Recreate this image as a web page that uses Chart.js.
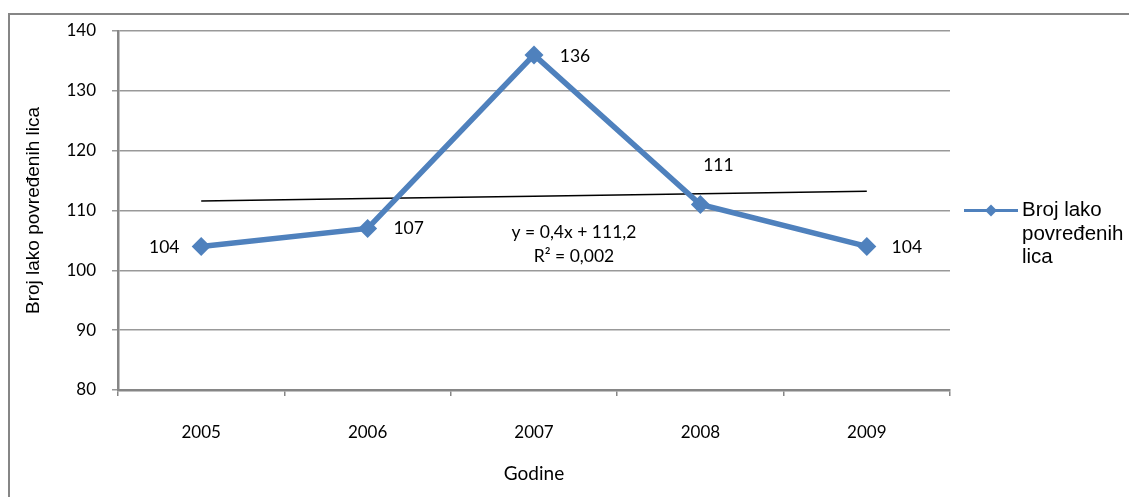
<!DOCTYPE html>
<html>
<head>
<meta charset="utf-8">
<script src="https://cdn.jsdelivr.net/npm/chart.js@4.4.0/dist/chart.umd.min.js"></script>
<style>
  html, body { margin: 0; padding: 0; background: #fff; }
  #wrap { width: 1129px; height: 497px; position: relative; }
</style>
</head>
<body>
<div id="wrap"><canvas id="c"></canvas></div>
<script>
// podaci
const godine = ['2005', '2006', '2007', '2008', '2009'];
const brojLica = [104, 107, 136, 111, 104];
const trend = [111.6, 112.0, 112.4, 112.8, 113.2];
const yTicks = [80, 90, 100, 110, 120, 130, 140];
const legendLines = ['Broj lako', 'povređenih', 'lica'];
const eqLines = ['y = 0,4x + 111,2', 'R² = 0,002'];

const BLUE = '#4f81bd';
const GRAY = '#868686';
const tickFont = { family: 'Lato, "Open Sans", sans-serif', size: 17 };

// pomaci oznaka vrijednosti u odnosu na tačku
const labelOffsets = [[-37, 1], [41, 0], [41, 1], [18, -39], [40, 1]];

const extras = {
  id: 'extras',
  afterDatasetsDraw(chart) {
    const { ctx, chartArea, scales } = chart;
    const meta = chart.getDatasetMeta(0);
    ctx.save();
    ctx.fillStyle = '#000';
    ctx.font = '17.5px Lato, "Open Sans", sans-serif';
    ctx.textAlign = 'center';
    ctx.textBaseline = 'middle';
    meta.data.forEach((pt, i) => {
      const [dx, dy] = labelOffsets[i];
      ctx.fillText(String(brojLica[i]), pt.x + dx, pt.y + dy);
    });

    // jednačina trenda
    const cx = scales.x.getPixelForValue(2) + 40;
    const cy = scales.y.getPixelForValue(106.3);
    eqLines.forEach((t, i) => ctx.fillText(t, cx, cy + i * 24));

    // legenda
    const ly = scales.y.getPixelForValue(110);
    const lx = chartArea.right + 14;
    ctx.strokeStyle = BLUE;
    ctx.lineWidth = 3;
    ctx.beginPath();
    ctx.moveTo(lx, ly);
    ctx.lineTo(lx + 54, ly);
    ctx.stroke();
    ctx.fillStyle = BLUE;
    ctx.beginPath();
    ctx.moveTo(lx + 27, ly - 6);
    ctx.lineTo(lx + 33, ly);
    ctx.lineTo(lx + 27, ly + 6);
    ctx.lineTo(lx + 21, ly);
    ctx.closePath();
    ctx.fill();
    ctx.fillStyle = '#000';
    ctx.textAlign = 'left';
    ctx.font = '20.5px "Liberation Sans", Arial, sans-serif';
    legendLines.forEach((t, i) => ctx.fillText(t, lx + 58, ly + i * 23.5));

    // okvir grafikona
    ctx.strokeStyle = GRAY;
    ctx.lineWidth = 2;
    ctx.strokeRect(9, 14, 1140, 500);
    ctx.restore();
  }
};

new Chart(document.getElementById('c'), {
  type: 'line',
  data: {
    labels: godine,
    datasets: [{
      label: 'Broj lako povređenih lica',
      data: brojLica,
      borderColor: BLUE,
      backgroundColor: BLUE,
      borderWidth: 5.5,
      pointStyle: 'rectRot',
      pointRadius: 9.5,
      pointBorderWidth: 0,
      tension: 0,
      order: 1,
    }, {
      label: 'trend',
      data: trend,
      borderColor: '#000',
      borderWidth: 1.5,
      pointRadius: 0,
      tension: 0,
      order: 2,
    }],
  },
  options: {
    responsive: true,
    maintainAspectRatio: false,
    animation: false,
    layout: { padding: { left: 0, right: 179, top: 31, bottom: 0 } },
    plugins: { legend: { display: false }, tooltip: { enabled: false } },
    scales: {
      x: {
        offset: true,
        grid: { offset: true, drawOnChartArea: false, color: GRAY, lineWidth: 1.5, tickLength: 6 },
        border: { color: GRAY, width: 2.5 },
        ticks: { color: '#000', font: tickFont, padding: 26, maxRotation: 0 },
        title: { display: true, text: 'Godine', color: '#000', font: { family: 'Lato, "Open Sans", sans-serif', size: 19 }, padding: { top: 0, bottom: 12 } },
        afterFit: s => { s.height = 107; },
      },
      y: {
        min: 80, max: 140,
        afterBuildTicks: s => { s.ticks = yTicks.map(v => ({ value: v })); },
        grid: { color: '#999', lineWidth: 1.5, tickLength: 6 },
        border: { color: GRAY, width: 2.5 },
        ticks: { color: '#000', font: tickFont, padding: 16 },
        title: { display: true, text: 'Broj lako povređenih lica', color: '#000', font: { family: '"Liberation Sans", Arial, sans-serif', size: 19 }, padding: { top: 22, bottom: 0 } },
        afterFit: s => { s.width = 118; },
      },
    },
  },
  plugins: [extras],
});
</script>
</body>
</html>
